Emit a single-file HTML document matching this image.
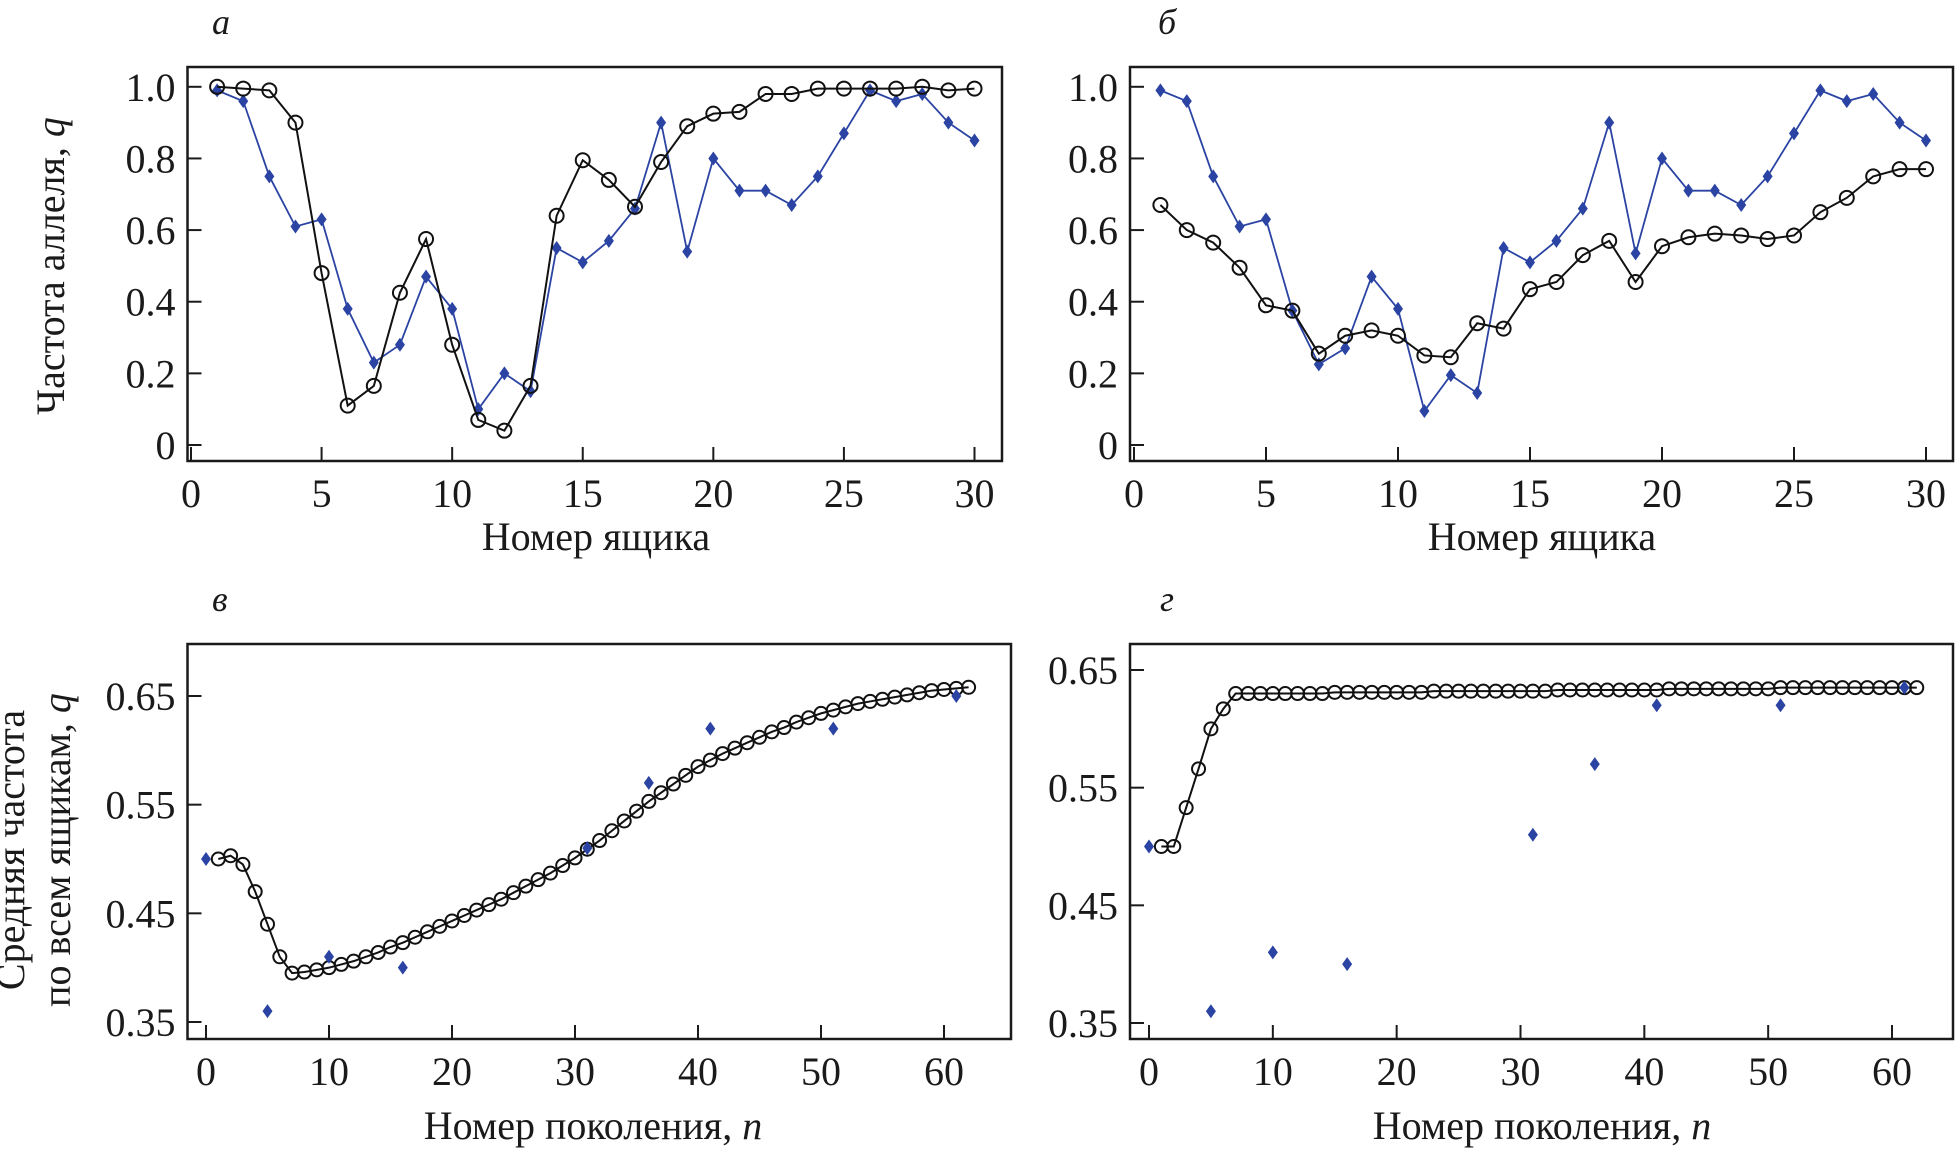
<!DOCTYPE html>
<html><head><meta charset="utf-8"><style>
body{margin:0;background:#fff}
svg{display:block}
text{font-family:"Liberation Serif",serif;fill:#1a1a1a}
</style></head><body>
<svg id="fig" width="1955" height="1153" viewBox="0 0 1955 1153" xmlns="http://www.w3.org/2000/svg">
<text x="212" y="34" font-size="36" font-style="italic">а</text>
<text x="1158" y="34" font-size="36" font-style="italic">б</text>
<text x="212" y="611" font-size="36" font-style="italic">в</text>
<text x="1160" y="611" font-size="36" font-style="italic">г</text>
<text transform="translate(64,266) rotate(-90)" text-anchor="middle" font-size="40">Частота аллеля, <tspan font-style="italic">q</tspan></text>
<text transform="translate(24,850) rotate(-90)" text-anchor="middle" font-size="40">Средняя частота</text>
<text transform="translate(70,850) rotate(-90)" text-anchor="middle" font-size="40">по всем ящикам, <tspan font-style="italic">q</tspan></text>
<text x="596" y="550" text-anchor="middle" font-size="40">Номер ящика</text>
<text x="1542" y="550" text-anchor="middle" font-size="40">Номер ящика</text>
<text x="593" y="1139" text-anchor="middle" font-size="40">Номер поколения, <tspan font-style="italic">n</tspan></text>
<text x="1542" y="1139" text-anchor="middle" font-size="40">Номер поколения, <tspan font-style="italic">n</tspan></text>
</svg>
<script>
const boxes = Array.from({length:30},(_, i)=>i+1);
const blueA = [0.99,0.96,0.75,0.61,0.63,0.38,0.23,0.28,0.47,0.38,0.10,0.20,0.15,0.55,0.51,0.57,0.66,0.90,0.54,0.80,0.71,0.71,0.67,0.75,0.87,0.99,0.96,0.98,0.90,0.85];
const blackA = [1.0,0.995,0.99,0.90,0.48,0.11,0.165,0.425,0.575,0.28,0.07,0.04,0.165,0.64,0.795,0.74,0.665,0.79,0.89,0.925,0.93,0.98,0.98,0.995,0.995,0.995,0.995,1.0,0.99,0.995];
const blueB = [0.99,0.96,0.75,0.61,0.63,0.375,0.225,0.27,0.47,0.38,0.095,0.195,0.145,0.55,0.51,0.57,0.66,0.90,0.535,0.80,0.71,0.71,0.67,0.75,0.87,0.99,0.96,0.98,0.90,0.85];
const blackB = [0.67,0.60,0.565,0.495,0.39,0.375,0.255,0.305,0.32,0.305,0.25,0.245,0.34,0.325,0.435,0.455,0.53,0.57,0.455,0.555,0.58,0.59,0.585,0.575,0.585,0.65,0.69,0.75,0.77,0.77];
const gens = Array.from({length:62},(_, i)=>i+1);
const meanV = [0.500,0.503,0.495,0.470,0.440,0.410,0.395,0.396,0.398,0.400,0.403,0.406,0.410,0.414,0.419,0.423,0.428,0.433,0.438,0.443,0.448,0.453,0.458,0.463,0.469,0.475,0.481,0.487,0.494,0.501,0.509,0.517,0.526,0.535,0.544,0.553,0.561,0.569,0.577,0.585,0.591,0.597,0.602,0.607,0.612,0.617,0.621,0.626,0.630,0.634,0.637,0.640,0.643,0.645,0.647,0.649,0.651,0.653,0.655,0.656,0.657,0.658];
const meanG = [0.500,0.500,0.533,0.566,0.600,0.617,0.630,0.630,0.630,0.630,0.630,0.630,0.630,0.630,0.631,0.631,0.631,0.631,0.631,0.631,0.631,0.631,0.632,0.632,0.632,0.632,0.632,0.632,0.632,0.632,0.632,0.632,0.633,0.633,0.633,0.633,0.633,0.633,0.633,0.633,0.633,0.634,0.634,0.634,0.634,0.634,0.634,0.634,0.634,0.634,0.635,0.635,0.635,0.635,0.635,0.635,0.635,0.635,0.635,0.635,0.635,0.635];
const obsGen = [0,5,10,16,31,36,41,51,61];
const obsV = [0.50,0.36,0.41,0.40,0.51,0.57,0.62,0.62,0.65];
const obsG = [0.50,0.36,0.41,0.40,0.51,0.57,0.62,0.62,0.635];
const xTicksTop = [0,5,10,15,20,25,30];
const yTicksTop = [0,0.2,0.4,0.6,0.8,1.0];
const yTickLabelsTop = ["0","0.2","0.4","0.6","0.8","1.0"];
const xTicksBot = [0,10,20,30,40,50,60];
const yTicksBot = [0.35,0.45,0.55,0.65];
const yTickLabelsBot = ["0.35","0.45","0.55","0.65"];

const NS="http://www.w3.org/2000/svg";
const svg=document.getElementById('fig');
const BLUE="#2b44a3";
function mk(tag,attrs,parent){const e=document.createElementNS(NS,tag);for(const k in attrs)e.setAttribute(k,attrs[k]);(parent||svg).appendChild(e);return e;}

function panel(id,box,xr,yr,xTicks,yTicks,yLabels){
  const g=mk('g',{});
  
  
  const sx=v=>xr[2]+(v-xr[0])*(xr[3]-xr[2])/(xr[1]-xr[0]);
  const sy=v=>yr[2]+(v-yr[0])*(yr[3]-yr[2])/(yr[1]-yr[0]);
  const r=mk('rect',{x:box[0],y:box[1],width:box[2]-box[0],height:box[3]-box[1],fill:'none',stroke:'#1a1a1a','stroke-width':2.5},g);
  
  
  xTicks.forEach(t=>{
    const x=sx(t);
    const l=mk('line',{x1:x,x2:x,y1:box[3],y2:box[3]-14,stroke:'#1a1a1a','stroke-width':2},g);
    
    
    const tx=mk('text',{x:x,y:xr[4],'text-anchor':'middle','font-size':40},g);
    tx.textContent=t;
    
    
  });
  yTicks.forEach((t,i)=>{
    const y=sy(t);
    const l=mk('line',{x1:box[0],x2:box[0]+14,y1:y,y2:y,stroke:'#1a1a1a','stroke-width':2},g);
    
    
    const tx=mk('text',{x:box[0]-12,y:y+14,'text-anchor':'end','font-size':40},g);
    tx.textContent=yLabels[i];
    
    
  });
  return {g,sx,sy};
}
function series(p,xs,ys,kind,line,name){
  const pts=xs.map((x,i)=>[p.sx(x),p.sy(ys[i])]);
  const col=kind==='diamond'?BLUE:'#111';
  if(line){
    const pl=mk('polyline',{points:pts.map(q=>q.join(',')).join(' '),fill:'none',stroke:col,'stroke-width':kind==='diamond'?1.8:2},p.g);
    
    
  }
  pts.forEach(q=>{
    let m;
    if(kind==='diamond'){
      m=mk('polygon',{points:`${q[0]},${q[1]-7} ${q[0]+5},${q[1]} ${q[0]},${q[1]+7} ${q[0]-5},${q[1]}`,fill:BLUE},p.g);
    } else {
      m=mk('circle',{cx:q[0],cy:q[1],r:kind==='circleS'?6.5:7,fill:'none',stroke:'#111','stroke-width':2},p.g);
    }
    
    
  });
}
const pa=panel('a',[187.5,67,1002,461],[0,30,191,974.5,507],[0,1,445,86.8],xTicksTop,yTicksTop,yTickLabelsTop);
series(pa,boxes,blueA,'diamond',true,'observed-a');
series(pa,boxes,blackA,'circle',true,'model-a');
const pb=panel('b',[1130,67,1953,461],[0,30,1134,1926,507],[0,1,445,86.8],xTicksTop,yTicksTop,yTickLabelsTop);
series(pb,boxes,blueB,'diamond',true,'observed-b');
series(pb,boxes,blackB,'circle',true,'model-b');
const pv=panel('v',[187.5,644,1011,1039],[0,60,206,944,1085],[0.35,0.65,1022,696],xTicksBot,yTicksBot,yTickLabelsBot);
series(pv,gens,meanV,'circleS',true,'model-v');
series(pv,obsGen,obsV,'diamond',false,'observed-v');
const pg=panel('g',[1130,644,1953,1039],[0,60,1149,1892,1085],[0.35,0.65,1023,670],xTicksBot,yTicksBot,yTickLabelsBot);
series(pg,gens,meanG,'circleS',true,'model-g');
series(pg,obsGen,obsG,'diamond',false,'observed-g');
</script>
</body></html>
